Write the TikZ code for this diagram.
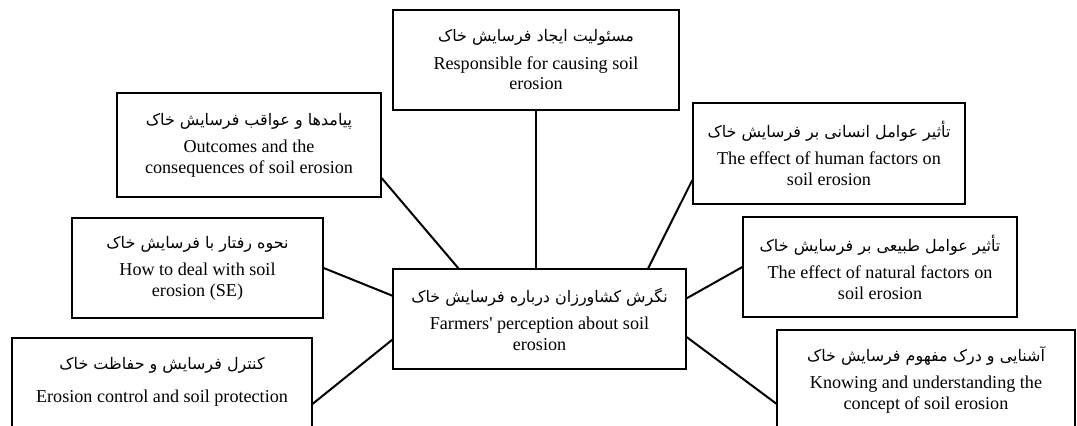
\documentclass[tikz,border=0pt]{standalone}
\usepackage{fontspec}
\setmainfont{Liberation Serif}
\newfontfamily\farsi[Script=Arabic,Scale=0.88]{DejaVu Sans}
\TeXXeTstate=1
\newcommand\fa[1]{{\farsi\beginR #1\endR}}

\begin{document}
\begin{tikzpicture}[x=.75pt, y=-.75pt, line width=1.5pt,
  factor/.style={draw, line width=1pt, align=center, inner sep=2pt,
    font=\fontsize{13.6}{15.5}\selectfont}]
\clip (0,0) rectangle (1077,425);
\begin{scope}[every node/.style={factor}]
\node[minimum width=214.5pt, minimum height=75pt] (resp) at (536,60)
  {\fa{مسئولیت ایجاد فرسایش خاک}\\[5pt] Responsible for causing soil\\ erosion}; %%
\node[minimum width=198pt, minimum height=78pt] (outc) at (249,145)
  {\fa{پیامدها و عواقب فرسایش خاک}\\[5pt] Outcomes and the\\ consequences of soil erosion}; %%
\node[minimum width=204pt, minimum height=75.75pt] (human) at (829,153.5)
  {\fa{تأثیر عوامل انسانی بر فرسایش خاک}\\[5pt] The effect of human factors on\\ soil erosion}; %%
\node[minimum width=188.25pt, minimum height=75pt] (deal) at (197.5,268)
  {\fa{نحوه رفتار با فرسایش خاک}\\[5pt] How to deal with soil\\ erosion (SE)}; %%
\node[minimum width=205.5pt, minimum height=75pt] (natural) at (880,267)
  {\fa{تأثیر عوامل طبیعی بر فرسایش خاک}\\[5pt] The effect of natural factors on\\ soil erosion}; %%
\node[minimum width=219.75pt, minimum height=75pt] (ctr) at (539.5,319)
  {\fa{نگرش کشاورزان درباره فرسایش خاک}\\[5pt] Farmers\textquotesingle{} perception about soil\\ erosion}; %%
\node[minimum width=225pt, minimum height=75pt] (control) at (162,388)
  {\fa{کنترل فرسایش و حفاظت خاک}\\[9pt] Erosion control and soil protection\\[-8pt] \strut}; %%
\node[minimum width=223.5pt, minimum height=75pt] (knowing) at (926,380)
  {\fa{آشنایی و درک مفهوم فرسایش خاک}\\[5pt] Knowing and understanding the\\ concept of soil erosion}; %%
\end{scope}
\draw (resp.south) -- (resp.south |- ctr.north); %%
\draw (outc.-14) -- (ctr.148.5); %%
\draw (human.191) -- (ctr.25.8); %%
\draw (deal.east) -- (ctr.171.5); %%
\draw (natural.west) -- (ctr.8.9); %%
\draw (control.-6.5) -- (ctr.188.9); %%
\draw (knowing.189.5) -- (ctr.-7.4); %%
\end{tikzpicture}
\end{document}
